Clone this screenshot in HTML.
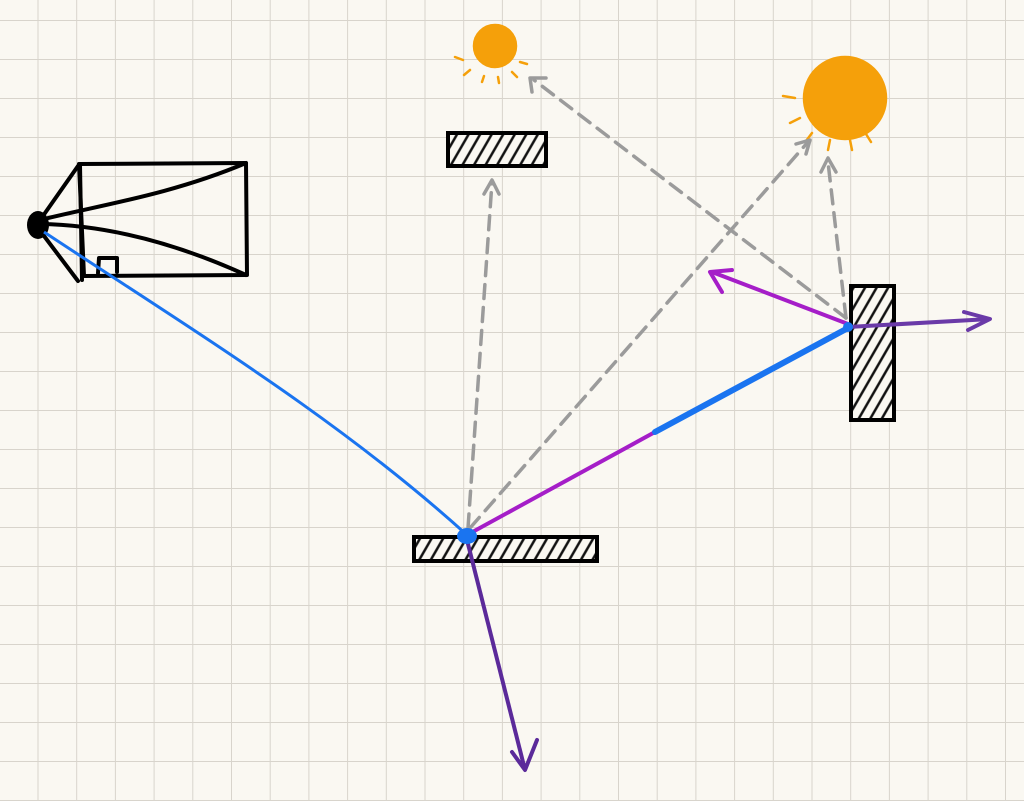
<!DOCTYPE html>
<html><head><meta charset="utf-8"><style>
html,body{margin:0;padding:0;width:1024px;height:801px;overflow:hidden;background:#faf8f2}
</style></head><body>
<svg width="1024" height="801" viewBox="0 0 1024 801" xmlns="http://www.w3.org/2000/svg">
<defs>
<pattern id="g" x="37.5" y="20" width="38.7" height="39" patternUnits="userSpaceOnUse">
<path d="M0 0V39M0 0H38.7" stroke="#d8d4cc" stroke-width="2" fill="none"/>
</pattern>
<pattern id="h" width="10" height="10" patternUnits="userSpaceOnUse" patternTransform="rotate(30)">
<rect width="10" height="10" fill="#faf8f2"/><path d="M3 0V10" stroke="#111" stroke-width="2.5"/>
</pattern>
</defs>
<rect width="1024" height="801" fill="url(#g)"/>
<g stroke="#000" stroke-width="4" fill="none" stroke-linecap="round" stroke-linejoin="round">
<path d="M79 164 L246 163 L247 275 L84 276 Z"/>
<path d="M80 165 L82 280"/>
<path d="M38 223 L78 166"/>
<path d="M38 228 L78 281"/>
<path d="M40 220 C100 205 170 195 246 163"/>
<path d="M40 224 C110 225 180 245 246 275"/>
<path d="M98 273 L99 258 L117 258 L117 272"/>
</g>
<ellipse cx="38" cy="225" rx="11" ry="14" fill="#000"/>
<rect x="414" y="537" width="183" height="24" fill="url(#h)" stroke="#000" stroke-width="4"/>
<rect x="448" y="133" width="98" height="33" fill="url(#h)" stroke="#000" stroke-width="4"/>
<rect x="851" y="286" width="43" height="134" fill="url(#h)" stroke="#000" stroke-width="4"/>
<g stroke="#f5a00a" stroke-width="2.5" stroke-linecap="round">
<circle cx="495" cy="46" r="21" fill="#f5a00a"/>
<path d="M463 60l-8-3M470 70l-6 5M484 76l-2 6M498 77l1 6M512 72l5 5M520 62l7 2"/>
<circle cx="845" cy="98" r="41" fill="#f5a00a"/>
<path d="M795 98l-12-2M800 118l-10 5M812 133l-6 8M830 140l-2 10M850 140l2 10M866 134l5 8"/>
</g>
<g stroke="#9b9b9b" stroke-width="3.5" stroke-dasharray="14 9" fill="none" stroke-linecap="round">
<path d="M468 528 L492 182"/>
<path d="M470 528 L808 142"/>
<path d="M846 318 L534 80"/>
<path d="M846 318 L828 162"/>
</g>
<g stroke="#9b9b9b" stroke-width="3.5" fill="none" stroke-linecap="round" stroke-linejoin="round">
<path d="M484 194 L492 180 L499 194"/>
<path d="M796 144 L810 140 L806 154"/>
<path d="M532 92 L530 78 L546 78"/>
<path d="M821 172 L828 158 L836 172"/>
</g>
<path d="M44 232 C200 335 340 420 467 535" stroke="#1a74f0" stroke-width="3" fill="none"/>
<path d="M467 535 L655 432" stroke="#a51ec8" stroke-width="4" fill="none"/>
<path d="M655 432 L848 328" stroke="#1a74f0" stroke-width="6" fill="none" stroke-linecap="round"/>
<path d="M467 540 L525 770" stroke="#5b2a9a" stroke-width="4" fill="none"/>
<path d="M512 752 L525 770 L537 740" stroke="#5b2a9a" stroke-width="4" fill="none" stroke-linecap="round" stroke-linejoin="round"/>
<path d="M848 324 L712 272" stroke="#a51ec8" stroke-width="4" fill="none"/>
<path d="M722 292 L710 272 L732 270" stroke="#a51ec8" stroke-width="4" fill="none" stroke-linecap="round" stroke-linejoin="round"/>
<path d="M848 327 L990 319" stroke="#6a3aa8" stroke-width="4" fill="none"/>
<path d="M964 312 L990 319 L968 330" stroke="#6a3aa8" stroke-width="4" fill="none" stroke-linecap="round" stroke-linejoin="round"/>
<ellipse cx="467" cy="536" rx="10" ry="8" fill="#1a74f0"/>
<circle cx="848" cy="327" r="5" fill="#1a74f0"/>
</svg>
</body></html>
